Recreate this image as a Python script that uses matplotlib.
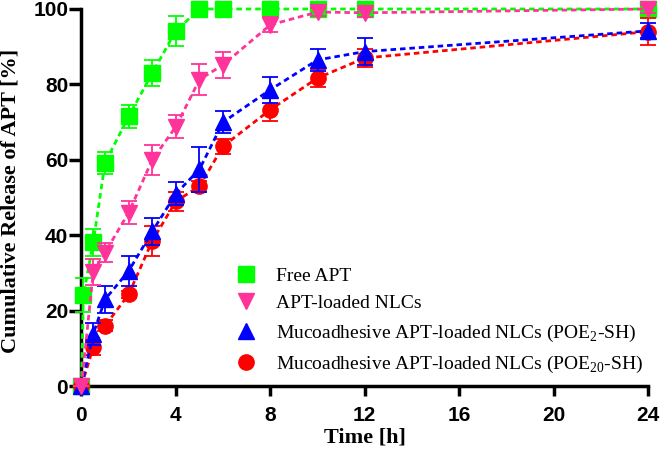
import matplotlib.pyplot as plt
from matplotlib.lines import Line2D

# ---- datos ----
t_free = [0, 0.083, 0.5, 1, 2, 3, 4, 5, 6, 8, 10, 12, 24]
free = [0, 24.2, 38.1, 59.2, 71.5, 83.0, 94.2, 100, 100, 100, 100, 100, 100]
free_sd = [0, 4.5, 3.5, 3.0, 3.0, 3.5, 4.0, 0, 0, 0, 0, 0, 0]

t = [0, 0.5, 1, 2, 3, 4, 5, 6, 8, 10, 12, 24]
nlc = [0, 30.2, 35.4, 46.0, 60.0, 68.8, 81.3, 85.2, 95.8, 99.2, 99.0, 100]
nlc_sd = [0, 3.5, 2.5, 3.0, 4.0, 3.0, 4.0, 3.5, 2.0, 1.0, 1.0, 1.0]

poe2 = [0, 13.8, 23.0, 30.5, 41.0, 51.0, 57.5, 70.0, 78.6, 86.5, 88.7, 94.2]
poe2_sd = [0, 3.0, 3.5, 4.0, 3.5, 3.0, 6.0, 3.0, 3.5, 3.0, 3.5, 2.0]

poe20 = [0, 10.3, 16.0, 24.3, 38.5, 49.0, 53.0, 63.6, 73.3, 81.7, 87.0, 94.0]
poe20_sd = [0, 2.0, 1.5, 1.0, 4.0, 2.5, 1.5, 2.0, 3.0, 2.5, 2.5, 3.5]

labels = ["Free APT", "APT-loaded NLCs",
          r"Mucoadhesive APT-loaded NLCs (POE$_{\mathregular{2}}$-SH)",
          r"Mucoadhesive APT-loaded NLCs (POE$_{\mathregular{20}}$-SH)"]

c_green, c_pink, c_blue, c_red = "#00ff00", "#ff3399", "#0000ff", "#ff0000"

plt.rcParams["mathtext.fontset"] = "custom"
plt.rcParams["mathtext.rm"] = "Liberation Serif"

fig = plt.figure(figsize=(6.62, 4.5), dpi=100)
ax = fig.add_axes([0.123, 0.142, 0.856, 0.838])

def serie(x, y, e, color, marker, ms, z):
    ax.errorbar(x, y, yerr=e, color=color, marker=marker, markersize=ms,
                linestyle=(0, (2, 1.4)), linewidth=2.0, elinewidth=1.3,
                capsize=6, capthick=1.3, clip_on=False, zorder=z)

serie(t_free, free, free_sd, c_green, "s", 11, 3)
serie(t, poe20, poe20_sd, c_red, "o", 11, 4)
serie(t, poe2, poe2_sd, c_blue, "^", 11, 5)
serie(t, nlc, nlc_sd, c_pink, "v", 11, 6)

ax.set_xlim(0, 24)
ax.set_ylim(0, 100)
ax.set_xticks([0, 4, 8, 12, 16, 20, 24])
ax.set_yticks([0, 20, 40, 60, 80, 100])
for s in ["top", "right"]:
    ax.spines[s].set_visible(False)
for s in ["left", "bottom"]:
    ax.spines[s].set_linewidth(2.5)
ax.tick_params(width=2.5, labelsize=15)
ax.tick_params(axis="x", length=7.5, pad=6.5)
ax.tick_params(axis="y", length=8.5, pad=1)
for lab in ax.get_xticklabels() + ax.get_yticklabels():
    lab.set_fontweight("bold")
    lab.set_family("Liberation Sans")

ax.set_xlabel("Time [h]", family="Liberation Serif", fontweight="bold", fontsize=16, labelpad=2)
ax.set_ylabel("Cumulative Release of APT [%]", family="Liberation Serif", fontweight="bold",
              fontsize=16, labelpad=0)
ax.yaxis.set_label_coords(-0.108, 0.49)

handles = [Line2D([], [], color=c, marker=m, linestyle="none", markersize=11)
           for c, m in [(c_green, "s"), (c_pink, "v"), (c_blue, "^"), (c_red, "o")]]
ax.legend(handles, labels, loc="upper left", bbox_to_anchor=(0.340, 0.437),
          bbox_transform=fig.transFigure, frameon=False, handlelength=0.8,
          handletextpad=1.1, labelspacing=0.52, borderpad=0.2,
          prop={"family": "Liberation Serif", "size": 14})

fig.savefig("out.png", dpi=100)
